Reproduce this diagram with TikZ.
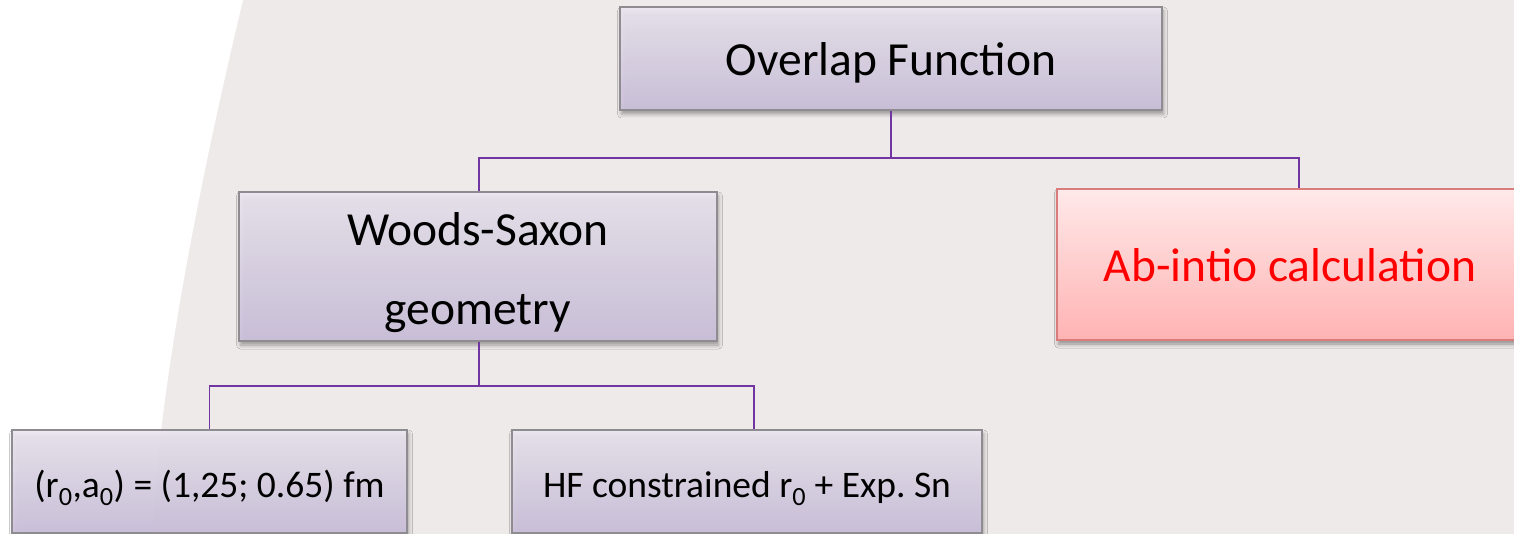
\documentclass[tikz,border=0pt]{standalone}
\usepackage{fontspec}
\setmainfont{Carlito}
\usetikzlibrary{shadows.blur}
\frenchspacing

\definecolor{pagebg}{HTML}{EFEAEA}
\definecolor{boxtop}{HTML}{ECE8F1}
\definecolor{boxbot}{HTML}{CEC2DE}
\definecolor{boxline}{HTML}{8E8C90}
\definecolor{redtop}{HTML}{FFE9E9}
\definecolor{redbot}{HTML}{FFB3B3}
\definecolor{redline}{HTML}{D87C7C}
\definecolor{linkcol}{HTML}{7236A2}

\tikzset{
  bigtext/.style={font={\fontsize{47.5}{79}\selectfont}},
  bigline/.style={bigtext, text height=34pt, text depth=0pt},
  smalltext/.style={font={\fontsize{37.5}{46}\selectfont}, text height=31pt, text depth=0pt},
  tbox/.style={draw=boxline, line width=1.2pt, top color=boxtop, bottom color=boxbot,
    fill opacity=0.9, text opacity=1, inner sep=0pt, align=center,
    blur shadow={shadow xshift=1.5pt, shadow yshift=-4pt, shadow blur radius=4pt, shadow opacity=40}},
  redbox/.style={tbox, draw=redline, top color=redtop, bottom color=redbot, fill opacity=1, text=red},
  conn/.style={draw=linkcol, line width=1.4pt},
}

\begin{document}
\begin{tikzpicture}[x=1pt, y=-1pt]
  \clip (0,0) rectangle (1514,534);
  \useasboundingbox (0,0) rectangle (1514,534);

  % page background with the white band on the left
  \fill[pagebg] (0,0) rectangle (1514,534);
  \fill[white] (0,0) -- (243,0) .. controls (200,180) and (160,380) .. (152,534) -- (0,534) -- cycle;

  % boxes
  \node[tbox, bigline, minimum width=542pt, minimum height=103pt] (ov) at (891,58.5) {Overlap Function};
  \node[tbox, bigtext, minimum width=478pt, minimum height=149pt] (ws) at (478,266.5)
    {\rule{0pt}{45pt}Woods-Saxon\\geometry};
  \node[redbox, bigline, minimum width=482pt, minimum height=151pt, xshift=8pt] (ab) at (1290,264.5)
    {\hspace*{-16pt}Ab-intio calculation};
  \node[tbox, smalltext, minimum width=395pt, minimum height=103pt] (r0) at (209.5,481.5)
    {(r\textsubscript{0},a\textsubscript{0}) = (1,25; 0.65) fm};
  \node[tbox, smalltext, minimum width=470pt, minimum height=103pt] (hf) at (747,481.5)
    {HF constrained r\textsubscript{0} + Exp. Sn};

  % connectors
  \coordinate (busA) at (0,158);
  \coordinate (busB) at (0,386);
  \draw[conn] (ov.south) -- (ov.south |- busA);
  \draw[conn] ([xshift=1pt]ws.north) -- ([xshift=1pt]ws.north |- busA)
    -- ([xshift=1pt]ab.north |- busA) -- ([xshift=1pt]ab.north);
  \draw[conn] ([xshift=1pt]ws.south) -- ([xshift=1pt]ws.south |- busB);
  \draw[conn] (r0.north) -- (r0.north |- busB) -- ([xshift=7pt]hf.north |- busB) -- ([xshift=7pt]hf.north);
\end{tikzpicture}
\end{document}
